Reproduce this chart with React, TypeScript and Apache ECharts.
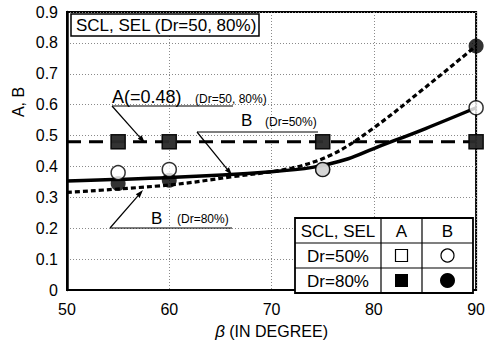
import React, { useEffect, useRef } from "react";
import * as echarts from "echarts";

// measured points (beta in degrees)
const betaPoints = [55, 60, 75, 90];
const aDr50 = [0.48, 0.48, 0.48, 0.48];
const aDr80 = [0.48, 0.48, 0.48, 0.48];
const bDr50 = [0.38, 0.39, 0.39, 0.59];
const bDr80 = [0.345, 0.355, 0.39, 0.79];

// constant A line
const aLineBeta = [50, 90];
const aLineValue = [0.48, 0.48];

// fitted curves
const fitBeta50 = [50, 60, 70, 74, 77.5, 80, 85, 90];
const fitB50 = [0.353, 0.364, 0.383, 0.397, 0.425, 0.458, 0.522, 0.59];
const fitBeta80 = [50, 60, 66, 72, 76, 80, 85, 90];
const fitB80 = [0.316, 0.34, 0.366, 0.395, 0.44, 0.525, 0.655, 0.79];

const xTicks = [50, 60, 70, 80, 90];
const yTickLabels = ["0", "0.1", "0.2", "0.3", "0.4", "0.5", "0.6", "0.7", "0.8", "0.9"];

const FONT = '"Liberation Sans", Arial, sans-serif';

const zip = (xs: number[], ys: number[]) => xs.map((x, i) => [x, ys[i]]);

function arrow(x1: number, y1: number, x2: number, y2: number) {
  const dx = x2 - x1;
  const dy = y2 - y1;
  const len = Math.sqrt(dx * dx + dy * dy);
  const ux = dx / len;
  const uy = dy / len;
  const hl = 8;
  const hw = 2.6;
  const bx = x2 - ux * hl;
  const by = y2 - uy * hl;
  return [
    {
      type: "line",
      shape: { x1, y1, x2: bx, y2: by },
      style: { stroke: "#000", lineWidth: 1.2 },
      z: 20,
    },
    {
      type: "polygon",
      shape: {
        points: [
          [x2, y2],
          [bx - uy * hw, by + ux * hw],
          [bx + uy * hw, by - ux * hw],
        ],
      },
      style: { fill: "#000" },
      z: 20,
    },
  ];
}

function txt(x: number, y: number, text: string, size: number, align = "left") {
  return {
    type: "text",
    x,
    y,
    z: 30,
    style: {
      text,
      fill: "#000",
      font: `${size}px ${FONT}`,
      align,
      verticalAlign: "middle",
    },
  };
}

function hline(x1: number, x2: number, y: number, w = 1.2) {
  return {
    type: "line",
    z: 20,
    shape: { x1, y1: y, x2, y2: y },
    style: { stroke: "#000", lineWidth: w },
  };
}

function vline(x: number, y1: number, y2: number, w = 1.2) {
  return {
    type: "line",
    z: 31,
    shape: { x1: x, y1, x2: x, y2 },
    style: { stroke: "#000", lineWidth: w },
  };
}

export default function App() {
  const ref = useRef<HTMLDivElement>(null);

  useEffect(() => {
    if (!ref.current) return;
    const chart = echarts.init(ref.current, undefined, { renderer: "svg" });

    // legend table geometry
    const tx0 = 295, tx1 = 381, tx2 = 422, tx3 = 473;
    const ty0 = 218, ty1 = 243, ty2 = 268, ty3 = 293;

    const graphic: any[] = [
      // title box
      {
        type: "rect",
        z: 25,
        shape: { x: 71, y: 14, width: 188, height: 22 },
        style: { fill: "#fff", stroke: "#000", lineWidth: 1.5 },
      },
      txt(76, 25.5, "SCL, SEL (Dr=50, 80%)", 17),
      // y axis title
      {
        type: "text",
        x: 18,
        y: 102,
        rotation: Math.PI / 2,
        z: 30,
        style: {
          text: "A, B",
          fill: "#000",
          font: `16px ${FONT}`,
          align: "center",
          verticalAlign: "middle",
        },
      },
      // annotation A
      txt(112, 97, "A(=0.48)", 18),
      txt(195, 99, "(Dr=50, 80%)", 12),
      hline(112, 233, 106),
      ...arrow(112, 106, 145, 143),
      // annotation B Dr=50
      txt(241, 120, "B", 17),
      txt(265, 122, "(Dr=50%)", 12),
      hline(197, 318, 132),
      ...arrow(197, 132, 232, 175),
      // annotation B Dr=80
      txt(151, 218, "B", 17),
      txt(177, 219, "(Dr=80%)", 12),
      hline(110, 232, 228),
      ...arrow(110, 228, 143, 190),
      // legend table
      {
        type: "rect",
        z: 30,
        shape: { x: tx0, y: ty0, width: tx3 - tx0, height: ty3 - ty0 },
        style: { fill: "#fff", stroke: "#000", lineWidth: 1.8 },
      },
      { ...hline(tx0, tx3, ty1, 1.2), z: 31 },
      { ...hline(tx0, tx3, ty2, 1.2), z: 31 },
      vline(tx1, ty0, ty3),
      vline(tx2, ty0, ty3),
      { ...txt((tx0 + tx1) / 2, (ty0 + ty1) / 2 + 1, "SCL, SEL", 17, "center"), z: 32 },
      { ...txt((tx1 + tx2) / 2, (ty0 + ty1) / 2 + 1, "A", 17, "center"), z: 32 },
      { ...txt((tx2 + tx3) / 2, (ty0 + ty1) / 2 + 1, "B", 17, "center"), z: 32 },
      { ...txt((tx0 + tx1) / 2, (ty1 + ty2) / 2 + 1, "Dr=50%", 17, "center"), z: 32 },
      { ...txt((tx0 + tx1) / 2, (ty2 + ty3) / 2 + 1, "Dr=80%", 17, "center"), z: 32 },
      {
        type: "rect",
        z: 32,
        shape: { x: (tx1 + tx2) / 2 - 6, y: (ty1 + ty2) / 2 - 6, width: 12, height: 12 },
        style: { fill: "#fff", stroke: "#000", lineWidth: 1.2 },
      },
      {
        type: "circle",
        z: 32,
        shape: { cx: (tx2 + tx3) / 2, cy: (ty1 + ty2) / 2, r: 6.5 },
        style: { fill: "#fff", stroke: "#000", lineWidth: 1.2 },
      },
      {
        type: "rect",
        z: 32,
        shape: { x: (tx1 + tx2) / 2 - 6.5, y: (ty2 + ty3) / 2 - 6.5, width: 13, height: 13 },
        style: { fill: "#000" },
      },
      {
        type: "circle",
        z: 32,
        shape: { cx: (tx2 + tx3) / 2, cy: (ty2 + ty3) / 2, r: 7.5 },
        style: { fill: "#000" },
      },
    ];

    chart.setOption({
      animation: false,
      backgroundColor: "#fff",
      grid: {
        left: 67,
        right: 9,
        top: 12,
        bottom: 54,
        show: true,
        borderColor: "#000",
        borderWidth: 2,
        backgroundColor: "transparent",
      },
      xAxis: {
        type: "value",
        min: xTicks[0],
        max: xTicks[xTicks.length - 1],
        interval: 10,
        name: "{i|β} (IN DEGREE)",
        nameLocation: "middle",
        nameGap: 33,
        nameTextStyle: {
          color: "#000",
          fontSize: 16,
          fontFamily: FONT,
          rich: {
            i: { fontStyle: "italic", fontSize: 17, fontFamily: FONT, color: "#000" },
          },
        },
        axisLine: { show: true, lineStyle: { color: "#000", width: 2 } },
        axisTick: { show: false },
        axisLabel: { color: "#000", fontSize: 16, fontFamily: FONT, margin: 11 },
        splitLine: {
          show: true,
          lineStyle: { color: "#8a8a8a", width: 1, type: [1, 2] },
        },
      },
      yAxis: {
        type: "value",
        min: 0,
        max: 0.9,
        interval: 0.1,
        axisLine: { show: true, lineStyle: { color: "#000", width: 2.5 } },
        axisTick: { show: false },
        axisLabel: {
          color: "#000",
          fontSize: 16,
          fontFamily: FONT,
          margin: 9,
          formatter: (v: number) => yTickLabels[Math.round(v * 10)] ?? "",
        },
        splitLine: {
          show: true,
          lineStyle: { color: "#8a8a8a", width: 1, type: [1, 2] },
        },
      },
      series: [
        {
          name: "A fit",
          type: "line",
          data: zip(aLineBeta, aLineValue),
          symbol: "none",
          lineStyle: { color: "#000", width: 3, type: [14, 8] },
          z: 3,
        },
        {
          name: "B Dr=50% fit",
          type: "line",
          data: zip(fitBeta50, fitB50),
          smooth: 0.35,
          symbol: "none",
          lineStyle: { color: "#000", width: 3.5 },
          z: 3,
        },
        {
          name: "B Dr=80% fit",
          type: "line",
          data: zip(fitBeta80, fitB80),
          smooth: 0.35,
          symbol: "none",
          lineStyle: { color: "#000", width: 3.2, type: [5, 3] },
          z: 3,
        },
        {
          name: "A Dr=50%",
          type: "scatter",
          data: zip(betaPoints, aDr50),
          symbol: "rect",
          symbolSize: 14,
          clip: false,
          itemStyle: { color: "#fff", borderColor: "#000", borderWidth: 1.5 },
          z: 4,
        },
        {
          name: "A Dr=80%",
          type: "scatter",
          data: zip(betaPoints, aDr80),
          symbol: "rect",
          symbolSize: 15,
          clip: false,
          itemStyle: { color: "#000" },
          z: 5,
        },
        {
          name: "B Dr=80%",
          type: "scatter",
          data: zip(betaPoints, bDr80),
          symbol: "circle",
          symbolSize: 15,
          clip: false,
          itemStyle: { color: "#000" },
          z: 5,
        },
        {
          name: "B Dr=50%",
          type: "scatter",
          data: zip(betaPoints, bDr50),
          symbol: "circle",
          symbolSize: 14,
          clip: false,
          itemStyle: { color: "#fff", borderColor: "#000", borderWidth: 1.5 },
          z: 6,
        },
      ],
      graphic,
    });

    return () => chart.dispose();
  }, []);

  return (
    <div
      ref={ref}
      style={{ position: "fixed", left: 0, top: 0, width: 488, height: 345, background: "#fff" }}
    />
  );
}
